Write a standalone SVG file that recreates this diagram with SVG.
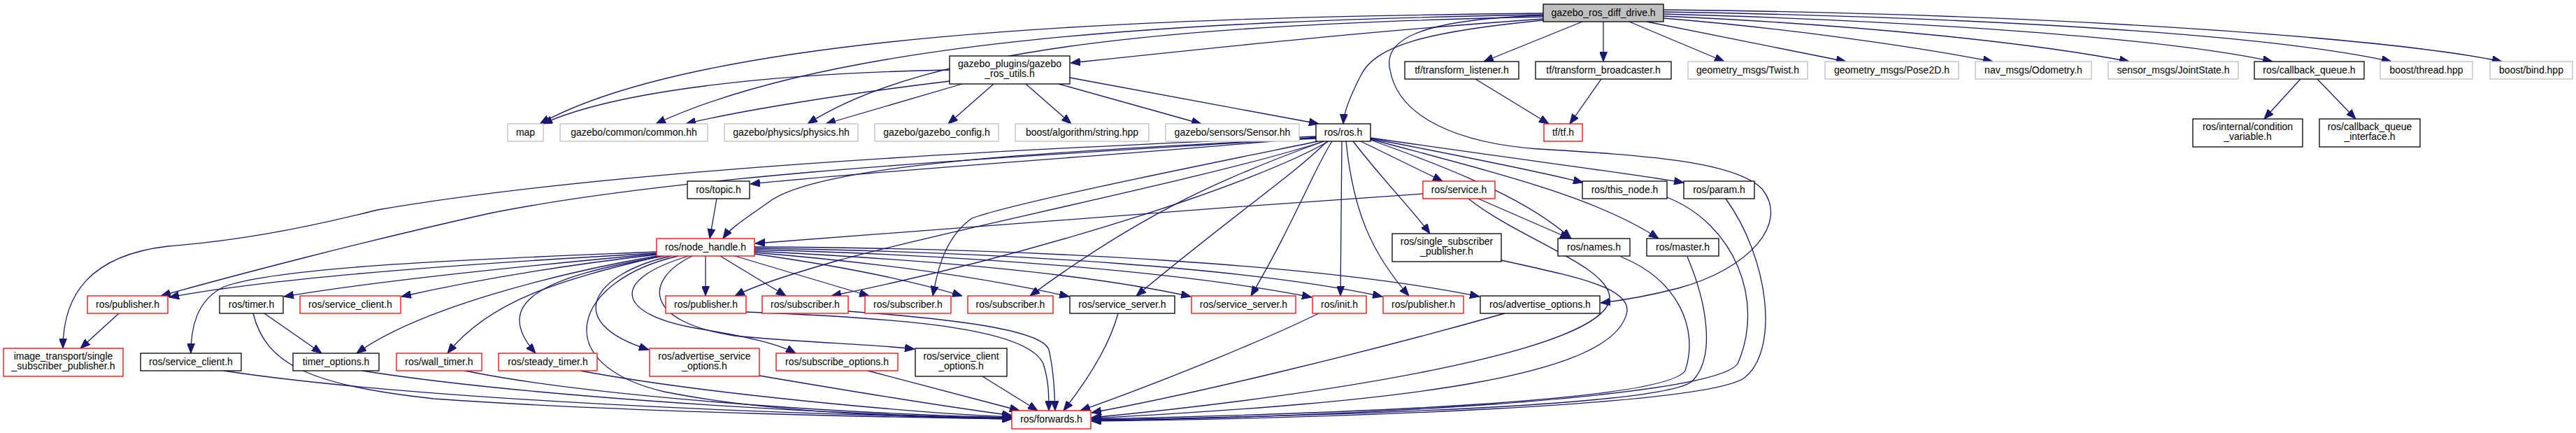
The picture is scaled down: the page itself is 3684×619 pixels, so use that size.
<svg xmlns="http://www.w3.org/2000/svg" width="3684" height="619" viewBox="0 0 3684 619">
<style>
text{font-family:"Liberation Sans",Arial,sans-serif;font-size:14px;fill:#000;text-anchor:middle}
rect{fill:#fff;stroke-width:1.3}
.k{stroke:#000}
.g{stroke:#bfbfbf}
.r{stroke:#ff0000}
.root{fill:#bfbfbf;stroke:#000}
.e{fill:none;stroke:#191970;stroke-width:1.3;marker-end:url(#a)}
</style>
<defs>
<marker id="a" markerUnits="userSpaceOnUse" markerWidth="14" markerHeight="11" refX="14" refY="5.5" orient="auto">
<path d="M0,0 L14,5.5 L0,11 z" fill="#191970" stroke="#191970" stroke-width="1"/>
</marker>
</defs>
<rect x="0" y="0" width="3684" height="619" style="fill:#fff;stroke:none"/>
<g id="edges">
<path class="e" d="M2207,19 C1600,25 1000,50 772,177"/>
<path class="e" d="M2207,21 C1700,30 1200,55 938,177"/>
<path class="e" d="M2207,24 C1700,35 1330,65 1155,177"/>
<path class="e" d="M2207,27 C1950,45 1700,72 1531,90"/>
<path class="e" d="M2207,29 C2040,45 1965,65 1945,110 C1930,140 1922,160 1921,177"/>
<path class="e" d="M2263,31 L2122,88"/>
<path class="e" d="M2293,31 L2293,88"/>
<path class="e" d="M2330,31 L2466,88"/>
<path class="e" d="M2355,31 C2450,50 2560,72 2640,88"/>
<path class="e" d="M2379,26 C2550,40 2730,65 2850,88"/>
<path class="e" d="M2379,23 C2650,35 2900,60 3045,88"/>
<path class="e" d="M2379,20 C2750,30 3100,55 3250,88"/>
<path class="e" d="M2379,17 C2850,25 3250,50 3420,88"/>
<path class="e" d="M2379,14 C2950,20 3420,55 3578,88"/>
<path class="e" d="M2207,22 C2020,28 1978,60 1988,100 C2000,170 2090,205 2200,213 C2350,222 2480,230 2520,270 C2560,320 2500,385 2400,412 C2350,425 2315,430 2289,433"/>
<path class="e" d="M1358,100 C1100,105 880,130 776,177"/>
<path class="e" d="M1358,116 C1200,135 1050,160 981,177"/>
<path class="e" d="M1376,120 L1181,177"/>
<path class="e" d="M1421,120 L1356,177"/>
<path class="e" d="M1467,120 L1532,177"/>
<path class="e" d="M1514,120 L1718,177"/>
<path class="e" d="M1530,111 L1886,177"/>
<path class="e" d="M2290,113 L2245,177"/>
<path class="e" d="M2110,113 L2215,177"/>
<path class="e" d="M3290,113 L3238,170"/>
<path class="e" d="M3314,113 L3369,170"/>
<path class="e" d="M1882,196 C1700,215 1300,240 1073,263"/>
<path class="e" d="M1882,198 C1450,218 1180,238 1105,285 C1070,310 1045,325 1034,341"/>
<path class="e" d="M1882,195 C1500,212 900,238 540,300 C420,330 330,345 240,352 C130,365 90,420 90,498"/>
<path class="e" d="M1882,197 C1500,222 1000,245 700,305 C520,345 330,395 230,423"/>
<path class="e" d="M1893,202 C1750,250 1350,330 1200,372 C1130,392 1080,408 1051,423"/>
<path class="e" d="M1900,202 C1800,260 1500,360 1189,423"/>
<path class="e" d="M1885,202 C1700,240 1450,290 1390,312 C1350,340 1340,390 1334,423"/>
<path class="e" d="M1893,202 C1760,250 1640,300 1473,423"/>
<path class="e" d="M1898,202 C1850,250 1760,310 1625,423"/>
<path class="e" d="M1905,202 C1880,240 1850,320 1789,423"/>
<path class="e" d="M1919,202 L1917,423"/>
<path class="e" d="M1925,202 C1935,300 1960,360 2015,423"/>
<path class="e" d="M1935,202 C1980,260 2020,300 2045,334"/>
<path class="e" d="M1946,202 L2063,259"/>
<path class="e" d="M1960,200 C2100,250 2190,290 2247,341"/>
<path class="e" d="M1960,199 C2130,245 2280,280 2372,341"/>
<path class="e" d="M1960,198 C2100,225 2200,245 2264,261"/>
<path class="e" d="M1960,197 C2150,225 2310,245 2408,261"/>
<path class="e" d="M1025,284 L1015,341"/>
<path class="e" d="M2035,277 C1700,300 1300,330 1080,348"/>
<path class="e" d="M2114,284 L2245,341"/>
<path class="e" d="M2100,284 C2170,340 2300,380 2302,425 C2302,500 1900,565 1561,597"/>
<path class="e" d="M2147,372 C2250,395 2330,410 2327,445 C2310,540 2000,575 1561,598"/>
<path class="e" d="M2318,367 C2400,400 2430,470 2410,530 C2380,575 1900,592 1561,599"/>
<path class="e" d="M2413,367 C2440,430 2455,510 2420,545 C2380,580 1900,595 1561,600"/>
<path class="e" d="M2384,282 C2480,320 2525,430 2485,520 C2450,570 1900,597 1561,601"/>
<path class="e" d="M2468,284 C2530,370 2545,500 2495,540 C2440,580 1900,598 1561,602"/>
<path class="e" d="M939,360 C700,370 400,380 320,410 C280,430 273,470 273,505"/>
<path class="e" d="M939,362 C700,375 400,395 242,425"/>
<path class="e" d="M939,363 C750,380 550,400 406,424"/>
<path class="e" d="M939,364 C800,380 680,400 574,424"/>
<path class="e" d="M939,366 C800,390 600,440 510,505"/>
<path class="e" d="M945,366 C800,400 700,430 640,505"/>
<path class="e" d="M950,366 C780,395 700,430 766,505"/>
<path class="e" d="M960,366 C850,390 800,460 928,500"/>
<path class="e" d="M970,366 C820,400 780,520 950,560 C1100,590 1300,597 1447,599"/>
<path class="e" d="M985,366 C870,400 880,450 1000,470 C1060,480 1110,490 1138,505"/>
<path class="e" d="M990,366 C920,400 920,460 1050,480 C1150,490 1250,492 1308,499"/>
<path class="e" d="M1009,366 L1009,423"/>
<path class="e" d="M1030,366 L1124,423"/>
<path class="e" d="M1051,366 L1243,423"/>
<path class="e" d="M1079,363 C1200,380 1300,400 1376,423"/>
<path class="e" d="M1079,361 C1250,375 1400,395 1529,424"/>
<path class="e" d="M1079,359 C1300,370 1550,390 1703,424"/>
<path class="e" d="M1079,357 C1400,365 1700,390 1876,425"/>
<path class="e" d="M1079,355 C1450,360 1800,385 1977,424"/>
<path class="e" d="M1079,353 C1500,355 1900,380 2116,424"/>
<path class="e" d="M170,448 L115,498"/>
<path class="e" d="M378,448 L460,505"/>
<path class="e" d="M1886,448 C1800,490 1650,550 1545,587"/>
<path class="e" d="M2152,448 C1950,505 1700,565 1561,590"/>
<path class="e" d="M1599,448 C1585,500 1550,550 1521,587"/>
<path class="e" d="M1405,538 L1484,587"/>
<path class="e" d="M1241,530 L1458,587"/>
<path class="e" d="M1067,446 C1300,455 1470,470 1492,520 C1500,545 1500,565 1500,587"/>
<path class="e" d="M1213,445 C1350,455 1490,470 1500,500 C1507,530 1508,560 1509,587"/>
<path class="e" d="M362,448 C380,520 440,550 620,570 C900,590 1300,597 1447,599"/>
<path class="e" d="M320,530 C550,565 1000,590 1447,598"/>
<path class="e" d="M518,530 C720,562 1100,590 1447,598"/>
<path class="e" d="M665,530 C820,562 1150,590 1447,597"/>
<path class="e" d="M830,530 C1000,562 1300,590 1447,596"/>
<path class="e" d="M1086,537 C1250,565 1380,585 1447,594"/>
</g>
<g id="n0"><rect class="root" x="2207" y="6" width="172" height="25"/><text x="2293" y="23">gazebo_ros_diff_drive.h</text></g>
<g id="n1"><rect class="g" x="726" y="177" width="51" height="25"/><text x="751.5" y="194">map</text></g>
<g id="n2"><rect class="g" x="801" y="177" width="211" height="25"/><text x="906.5" y="194">gazebo/common/common.hh</text></g>
<g id="n3"><rect class="g" x="1036" y="177" width="191" height="25"/><text x="1131.5" y="194">gazebo/physics/physics.hh</text></g>
<g id="n4"><rect class="k" x="1358" y="80" width="172" height="40"/><text x="1444" y="96">gazebo_plugins/gazebo</text><text x="1444" y="110">_ros_utils.h</text></g>
<g id="n5"><rect class="g" x="1251" y="177" width="177" height="25"/><text x="1339.5" y="194">gazebo/gazebo_config.h</text></g>
<g id="n6"><rect class="g" x="1452" y="177" width="191" height="25"/><text x="1547.5" y="194">boost/algorithm/string.hpp</text></g>
<g id="n7"><rect class="g" x="1667" y="177" width="191" height="25"/><text x="1762.5" y="194">gazebo/sensors/Sensor.hh</text></g>
<g id="n8"><rect class="k" x="1882" y="177" width="78" height="25"/><text x="1921" y="194">ros/ros.h</text></g>
<g id="n9"><rect class="k" x="2009" y="88" width="163" height="25"/><text x="2090.5" y="105">tf/transform_listener.h</text></g>
<g id="n10"><rect class="k" x="2196" y="88" width="194" height="25"/><text x="2293" y="105">tf/transform_broadcaster.h</text></g>
<g id="n11"><rect class="r" x="2208" y="177" width="55" height="25"/><text x="2235.5" y="194">tf/tf.h</text></g>
<g id="n12"><rect class="g" x="2414" y="88" width="171" height="25"/><text x="2499.5" y="105">geometry_msgs/Twist.h</text></g>
<g id="n13"><rect class="g" x="2610" y="88" width="191" height="25"/><text x="2705.5" y="105">geometry_msgs/Pose2D.h</text></g>
<g id="n14"><rect class="g" x="2825" y="88" width="166" height="25"/><text x="2908" y="105">nav_msgs/Odometry.h</text></g>
<g id="n15"><rect class="g" x="3015" y="88" width="186" height="25"/><text x="3108" y="105">sensor_msgs/JointState.h</text></g>
<g id="n16"><rect class="k" x="3224" y="88" width="157" height="25"/><text x="3302.5" y="105">ros/callback_queue.h</text></g>
<g id="n17"><rect class="g" x="3404" y="88" width="132" height="25"/><text x="3470" y="105">boost/thread.hpp</text></g>
<g id="n18"><rect class="g" x="3561" y="88" width="118" height="25"/><text x="3620" y="105">boost/bind.hpp</text></g>
<g id="n19"><rect class="k" x="3136" y="170" width="157" height="40"/><text x="3214.5" y="186">ros/internal/condition</text><text x="3214.5" y="200">_variable.h</text></g>
<g id="n20"><rect class="k" x="3317" y="170" width="144" height="40"/><text x="3389" y="186">ros/callback_queue</text><text x="3389" y="200">_interface.h</text></g>
<g id="n21"><rect class="k" x="983" y="259" width="89" height="25"/><text x="1027.5" y="276">ros/topic.h</text></g>
<g id="n22"><rect class="r" x="2035" y="259" width="103" height="25"/><text x="2086.5" y="276">ros/service.h</text></g>
<g id="n23"><rect class="k" x="2263" y="259" width="121" height="25"/><text x="2323.5" y="276">ros/this_node.h</text></g>
<g id="n24"><rect class="k" x="2408" y="259" width="101" height="25"/><text x="2458.5" y="276">ros/param.h</text></g>
<g id="n25"><rect class="r" x="939" y="341" width="140" height="25"/><text x="1009" y="358">ros/node_handle.h</text></g>
<g id="n26"><rect class="k" x="1991" y="334" width="156" height="40"/><text x="2069" y="350">ros/single_subscriber</text><text x="2069" y="364">_publisher.h</text></g>
<g id="n27"><rect class="k" x="2228" y="341" width="103" height="25"/><text x="2279.5" y="358">ros/names.h</text></g>
<g id="n28"><rect class="k" x="2355" y="341" width="103" height="25"/><text x="2406.5" y="358">ros/master.h</text></g>
<g id="n29"><rect class="r" x="125" y="423" width="115" height="25"/><text x="182.5" y="440">ros/publisher.h</text></g>
<g id="n30"><rect class="k" x="314" y="423" width="91" height="25"/><text x="359.5" y="440">ros/timer.h</text></g>
<g id="n31"><rect class="r" x="429" y="423" width="144" height="25"/><text x="501" y="440">ros/service_client.h</text></g>
<g id="n32"><rect class="r" x="952" y="423" width="115" height="25"/><text x="1009.5" y="440">ros/publisher.h</text></g>
<g id="n33"><rect class="r" x="1090" y="423" width="123" height="25"/><text x="1151.5" y="440">ros/subscriber.h</text></g>
<g id="n34"><rect class="r" x="1237" y="423" width="123" height="25"/><text x="1298.5" y="440">ros/subscriber.h</text></g>
<g id="n35"><rect class="r" x="1384" y="423" width="122" height="25"/><text x="1445" y="440">ros/subscriber.h</text></g>
<g id="n36"><rect class="k" x="1530" y="423" width="150" height="25"/><text x="1605" y="440">ros/service_server.h</text></g>
<g id="n37"><rect class="r" x="1704" y="423" width="149" height="25"/><text x="1778.5" y="440">ros/service_server.h</text></g>
<g id="n38"><rect class="r" x="1877" y="423" width="77" height="25"/><text x="1915.5" y="440">ros/init.h</text></g>
<g id="n39"><rect class="r" x="1978" y="423" width="115" height="25"/><text x="2035.5" y="440">ros/publisher.h</text></g>
<g id="n40"><rect class="k" x="2117" y="423" width="171" height="25"/><text x="2202.5" y="440">ros/advertise_options.h</text></g>
<g id="n41"><rect class="r" x="5" y="498" width="171" height="40"/><text x="90.5" y="514">image_transport/single</text><text x="90.5" y="528">_subscriber_publisher.h</text></g>
<g id="n42"><rect class="k" x="201" y="505" width="144" height="25"/><text x="273" y="522">ros/service_client.h</text></g>
<g id="n43"><rect class="k" x="419" y="505" width="123" height="25"/><text x="480.5" y="522">timer_options.h</text></g>
<g id="n44"><rect class="r" x="567" y="505" width="122" height="25"/><text x="628" y="522">ros/wall_timer.h</text></g>
<g id="n45"><rect class="r" x="713" y="505" width="141" height="25"/><text x="783.5" y="522">ros/steady_timer.h</text></g>
<g id="n46"><rect class="r" x="929" y="498" width="157" height="40"/><text x="1007.5" y="514">ros/advertise_service</text><text x="1007.5" y="528">_options.h</text></g>
<g id="n47"><rect class="r" x="1110" y="505" width="174" height="25"/><text x="1197" y="522">ros/subscribe_options.h</text></g>
<g id="n48"><rect class="k" x="1309" y="498" width="131" height="40"/><text x="1374.5" y="514">ros/service_client</text><text x="1374.5" y="528">_options.h</text></g>
<g id="n49"><rect class="r" x="1447" y="587" width="113" height="26"/><text x="1503.5" y="604">ros/forwards.h</text></g>
</svg>
